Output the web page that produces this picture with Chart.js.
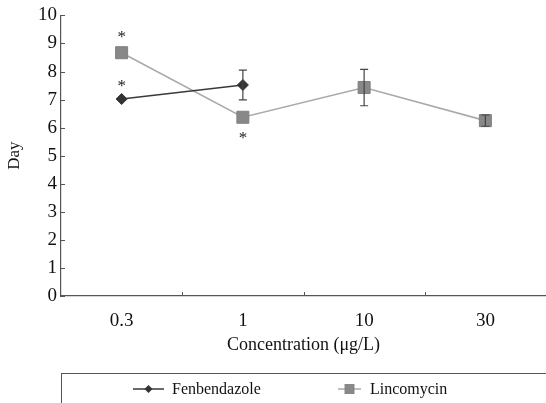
<!DOCTYPE html>
<html>
<head>
<meta charset="utf-8">
<script src="https://cdn.jsdelivr.net/npm/chart.js@4"></script>
<style>
  html, body { margin: 0; padding: 0; background: #fff; }
  #wrap { width: 546px; height: 403px; }
</style>
</head>
<body>
<div id="wrap"><canvas id="dayChart" width="546" height="403"></canvas></div>
<script>
const categories = ['0.3', '1', '10', '30'];
const fenbendazole = [7.02, 7.52, null, null];
const lincomycin = [8.67, 6.37, 7.43, 6.25];
const fenbendazoleErr = [0, 0.53, null, null];
const lincomycinErr = [0, 0, 0.65, 0.2];
// where the significance star goes: 'above', 'below' or ''
const fenbendazoleStar = ['above', '', '', ''];
const lincomycinStar = ['above', 'below', '', ''];

const serif = '"Liberation Serif", "Times New Roman", serif';

// error bars, stars, inward ticks, legend box
const extras = {
    id: 'extras',
    afterDatasetsDraw(chart) {
        const c = chart.ctx;
        const x = chart.scales.x, y = chart.scales.y;
        const errs = [fenbendazoleErr, lincomycinErr];
        c.save();
        c.strokeStyle = '#444';
        c.lineWidth = 1.2;
        chart.data.datasets.forEach(function(ds, i) {
            ds.data.forEach(function(v, j) {
                const e = errs[i][j];
                if (v == null || !e) return;
                const px = x.getPixelForValue(j);
                const top = y.getPixelForValue(v + e);
                const bot = y.getPixelForValue(v - e);
                c.beginPath();
                c.moveTo(px, top); c.lineTo(px, bot);
                c.moveTo(px - 4, top); c.lineTo(px + 4, top);
                c.moveTo(px - 4, bot); c.lineTo(px + 4, bot);
                c.stroke();
            });
        });
        c.restore();
    },
    afterDraw(chart) {
        const c = chart.ctx;
        const x = chart.scales.x, y = chart.scales.y;
        const area = chart.chartArea;
        c.save();
        // stars
        c.fillStyle = '#222';
        c.font = '17px ' + serif;
        c.textAlign = 'center';
        c.textBaseline = 'middle';
        const stars = [fenbendazoleStar, lincomycinStar];
        const gaps = [14, 17];
        chart.data.datasets.forEach(function(ds, i) {
            stars[i].forEach(function(s, j) {
                if (!s) return;
                const px = x.getPixelForValue(j);
                const py = y.getPixelForValue(ds.data[j]);
                c.fillText('*', px, s === 'above' ? py - gaps[i] + 2 : py + gaps[i] + 4);
            });
        });
        // inward tick marks
        c.strokeStyle = '#555';
        c.lineWidth = 1;
        c.beginPath();
        y.ticks.forEach(function(t) {
            const py = Math.round(y.getPixelForValue(t.value)) + 0.5;
            c.moveTo(area.left, py); c.lineTo(area.left + 4, py);
        });
        for (let j = 1; j < categories.length; j++) {
            const px = Math.round((x.getPixelForValue(j - 1) + x.getPixelForValue(j)) / 2) + 0.5;
            c.moveTo(px, area.bottom); c.lineTo(px, area.bottom - 4);
        }
        c.stroke();
        // legend box
        const top = 373.5;
        c.strokeStyle = '#555';
        c.strokeRect(61.5, top, 500, 60);
        const ly = 389;
        const items = [
            { x0: 133, x1: 164, tx: 172 },
            { x0: 338, x1: 361, tx: 370 }
        ];
        chart.data.datasets.forEach(function(ds, i) {
            const it = items[i];
            const mx = (it.x0 + it.x1) / 2;
            c.strokeStyle = ds.borderColor;
            c.lineWidth = 1.5;
            c.beginPath();
            c.moveTo(it.x0, ly); c.lineTo(it.x1, ly);
            c.stroke();
            c.fillStyle = ds.pointBackgroundColor;
            c.beginPath();
            if (ds.pointStyle === 'rectRot') {
                c.moveTo(mx, ly - 4); c.lineTo(mx + 4, ly); c.lineTo(mx, ly + 4); c.lineTo(mx - 4, ly);
            } else {
                c.rect(mx - 5, ly - 5, 10, 10);
            }
            c.closePath();
            c.fill();
            c.fillStyle = '#111';
            c.font = '16px ' + serif;
            c.textAlign = 'left';
            c.fillText(ds.label, it.tx, ly + 1);
        });
        c.restore();
    }
};

new Chart(document.getElementById('dayChart'), {
    type: 'line',
    data: {
        labels: categories,
        datasets: [
            {
                label: 'Fenbendazole',
                data: fenbendazole,
                borderColor: '#3a3a3a',
                borderWidth: 1.6,
                pointStyle: 'rectRot',
                pointRadius: 5.5,
                pointBackgroundColor: '#333',
                pointBorderColor: '#333',
                pointBorderWidth: 1,
                spanGaps: false
            },
            {
                label: 'Lincomycin',
                data: lincomycin,
                borderColor: '#aaa',
                borderWidth: 1.6,
                pointStyle: 'rect',
                pointRadius: 8.5,
                pointBackgroundColor: '#888',
                pointBorderColor: '#808080',
                pointBorderWidth: 1
            }
        ]
    },
    options: {
        responsive: false,
        animation: false,
        layout: { autoPadding: false, padding: { top: 14, right: 0, bottom: 30, left: 0 } },
        plugins: {
            legend: { display: false },
            tooltip: { enabled: false }
        },
        scales: {
            x: {
                offset: true,
                grid: { display: false, drawTicks: false },
                border: { color: '#555', width: 1.2 },
                ticks: {
                    color: '#111',
                    padding: 14,
                    font: { family: serif, size: 19 }
                },
                title: {
                    display: true,
                    text: 'Concentration (μg/L)',
                    color: '#111',
                    padding: { top: 4, bottom: 17 },
                    font: { family: serif, size: 18 }
                },
                afterFit: function(scale) {
                    scale.height = 77;
                    scale.paddingLeft = 0;
                    scale.paddingRight = 0;
                }
            },
            y: {
                min: 0,
                max: 10,
                grid: { display: false, drawTicks: false },
                border: { color: '#555', width: 1.2 },
                ticks: {
                    stepSize: 1,
                    color: '#111',
                    padding: 4,
                    font: { family: serif, size: 19 }
                },
                title: {
                    display: true,
                    text: 'Day',
                    color: '#111',
                    padding: { top: 4, bottom: 0 },
                    font: { family: serif, size: 17 }
                },
                afterFit: function(scale) { scale.width = 61; }
            }
        }
    },
    plugins: [extras]
});
</script>
</body>
</html>
